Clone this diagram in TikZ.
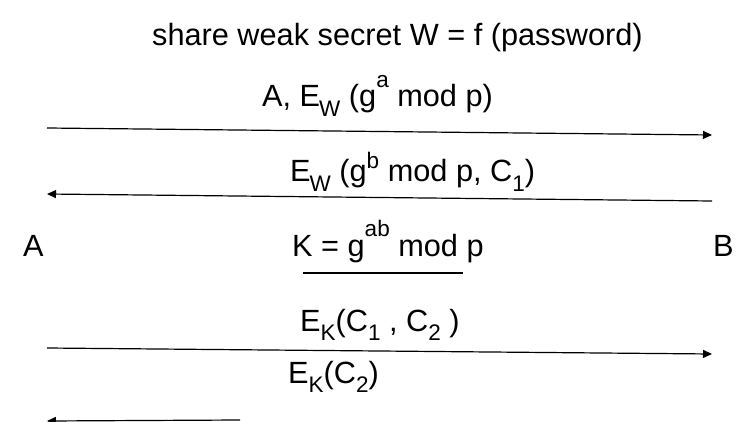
\documentclass[tikz,border=0pt]{standalone}
\usepackage{fontspec}
\setmainfont{Liberation Sans}
\usetikzlibrary{arrows.meta}
\newcommand\lowsub[1]{\raisebox{-0.3em}{\fontsize{22.5}{22.5}\selectfont #1}}
\newcommand\highsup[1]{\raisebox{0.45em}{\fontsize{22.5}{22.5}\selectfont #1}}
\newcommand\topsup[1]{\raisebox{0.62em}{\fontsize{22.5}{22.5}\selectfont #1}}
\begin{document}
\begin{tikzpicture}[x=1pt,y=-1pt,
  lbl/.style={anchor=base west, inner sep=0pt, font=\fontsize{30.7}{36}\selectfont},
  msg/.style={line width=1.2pt, -{Triangle[length=9pt,width=8pt]}},
  rule/.style={line width=1.2pt}]
\useasboundingbox (0,0) rectangle (749,422);
% title
\node[lbl] (title) at (152,46) {share weak secret W = f (password)};
% message labels
\node[lbl] (m1) at (262,107) {A, E\kern-1pt\lowsub{W} (g\topsup{a} mod p)};
\node[lbl] (m2) at (290,182) {E\kern-1pt\lowsub{W} (g\highsup{b} mod p, C\lowsub{1})};
\node[lbl] (k) at (292,256) {K = g\topsup{ab} mod p};
\node[lbl] (m3) at (300,331) {E\lowsub{K}(C\lowsub{1} , C\lowsub{2} )};
\node[lbl] (m4) at (288,383) {E\lowsub{K}(C\lowsub{2})};
% parties
\node[lbl] (A) at (23,256) {A};
\node[lbl] (B) at (713,256) {B};
% endpoints
\coordinate (a1) at (47,128);
\coordinate (b1) at (712,135);
\coordinate (b2) at (712,201);
\coordinate (a2) at (47,194);
\coordinate (a3) at (47,348);
\coordinate (b3) at (712,354);
\coordinate (c4) at (240,420);
\coordinate (a4) at (47,421);
\coordinate (u1) at (303,273);
\coordinate (u2) at (463,273);
% arrows
\draw[msg] (a1) -- (b1);
\draw[msg] (b2) -- (a2);
\draw[rule] (u1) -- (u2);
\draw[msg] (a3) -- (b3);
\draw[msg] (c4) -- (a4);
\end{tikzpicture}
\end{document}
